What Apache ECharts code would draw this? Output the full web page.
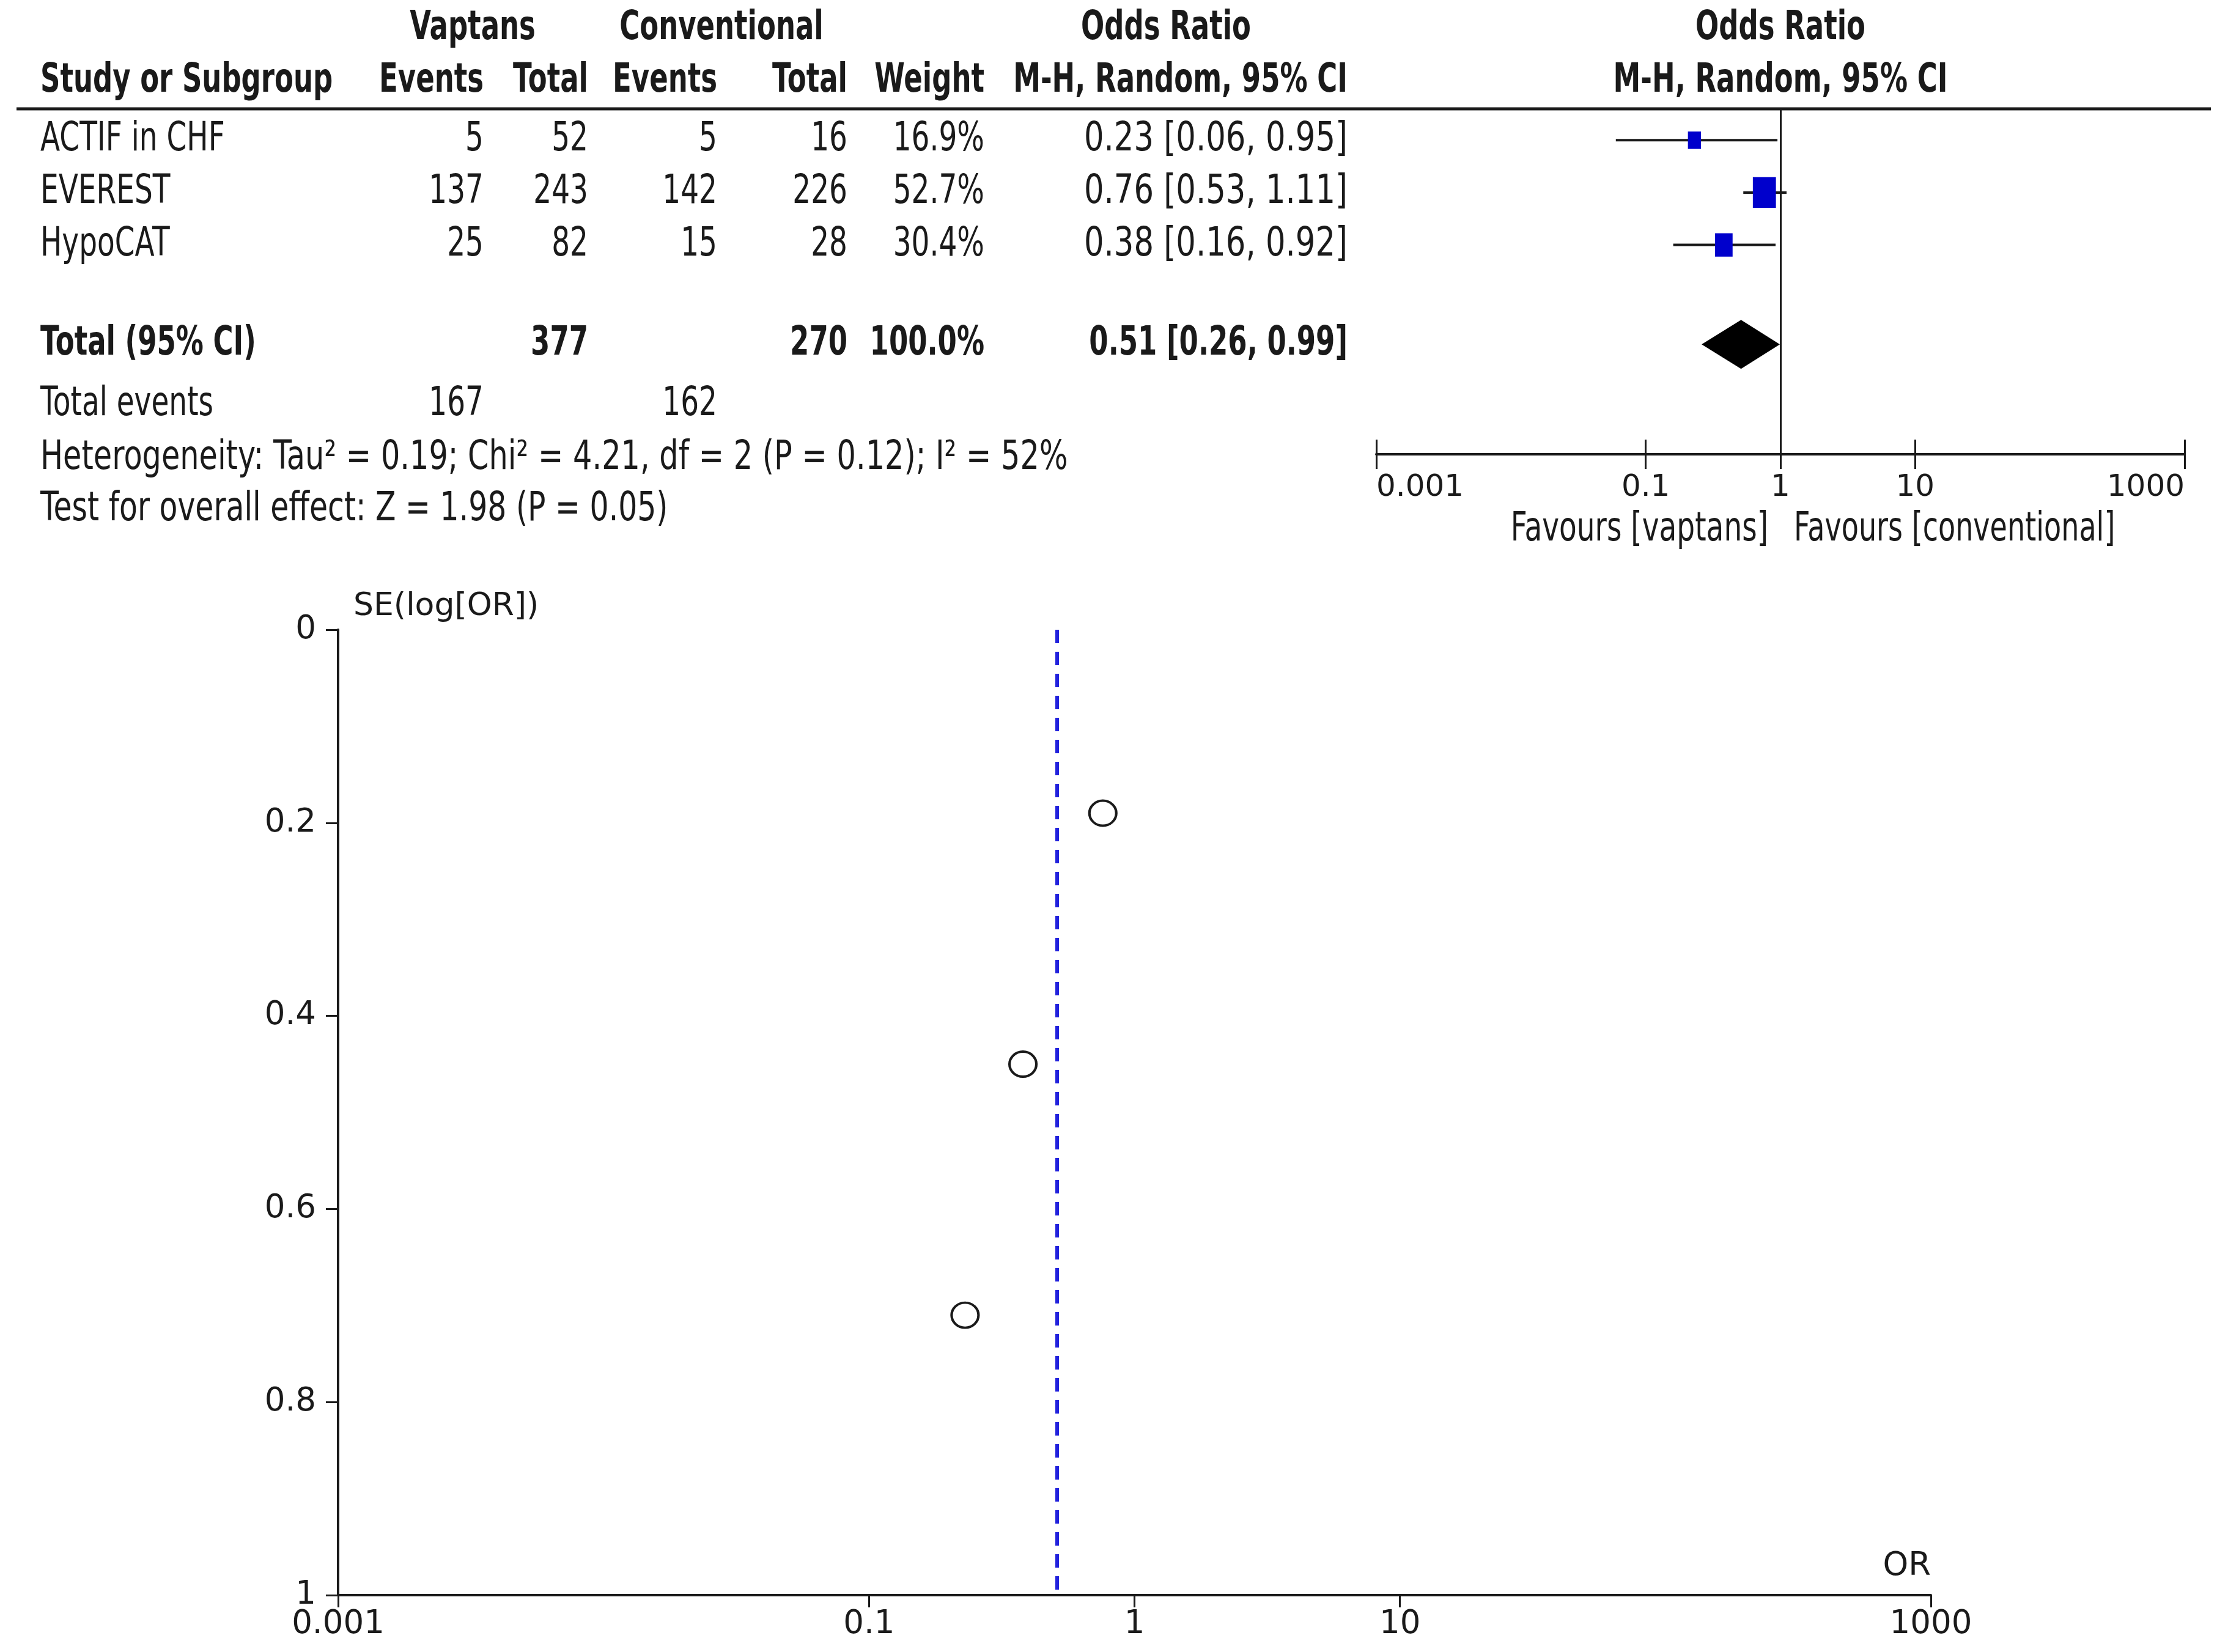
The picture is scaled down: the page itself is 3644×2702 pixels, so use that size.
<!DOCTYPE html>
<html>
<head>
<meta charset="utf-8">
<title>Vaptans vs conventional therapy: forest plot and funnel plot</title>
<script src="https://cdn.jsdelivr.net/npm/echarts@6.0.0/dist/echarts.min.js"></script>
<style>
  html, body { margin: 0; padding: 0; background: #fff; }
  #chart { width: 3644px; height: 2702px; }
</style>
</head>
<body>
<div id="chart"></div>
<script>
// 各研究数据
const studies = ['ACTIF in CHF', 'EVEREST', 'HypoCAT']
const vapEvents = [5, 137, 25]
const vapTotal = [52, 243, 82]
const conEvents = [5, 142, 15]
const conTotal = [16, 226, 28]
const weights = [16.9, 52.7, 30.4]
const oddsRatio = [0.23, 0.76, 0.38]
const ciLow = [0.06, 0.53, 0.16]
const ciHigh = [0.95, 1.11, 0.92]
// 漏斗图纵轴 SE(log[OR])
const seLogOr = [0.71, 0.19, 0.45]

// 合并结果
const pooledOR = 0.51
const pooledLow = 0.26
const pooledHigh = 0.99
const tau2 = 0.19
const chi2 = 4.21
const df = 2
const pHet = 0.12
const i2 = 52
const zValue = 1.98
const pOverall = 0.05

// 坐标轴刻度
const orTicks = [0.001, 0.1, 1, 10, 1000]

const INK = '#1a1a1a'
const TABLE_FONT = '"DejaVu Sans", Verdana, sans-serif'
const CAP = 66 // 表格文字目标高度（含纵向拉伸）

const sum = (arr) => arr.reduce((a, b) => a + b, 0)
const fmtOR = (o, l, h) => `${o.toFixed(2)} [${l.toFixed(2)}, ${h.toFixed(2)}]`
const fmtTick = (v) => String(+Number(v).toPrecision(3))
const totalRow = studies.length + 0.9

const chart = echarts.init(document.getElementById('chart'))

const option = {
  backgroundColor: '#fff',
  animation: false,
  grid: [
    // 森林图
    { left: 2251, right: 71, top: 178, height: 565, outerBoundsMode: 'none' },
    // 漏斗图
    { left: 553, right: 486, top: 1030, bottom: 93, outerBoundsMode: 'none' },
  ],
  xAxis: [
    {
      gridIndex: 0,
      type: 'log',
      logBase: 10,
      min: 0.001,
      max: 1000,
      position: 'bottom',
      axisLine: { onZero: false, lineStyle: { color: INK, width: 4 } },
      axisTick: { length: 24, customValues: orTicks, lineStyle: { color: INK, width: 3 } },
      axisLabel: {
        customValues: orTicks,
        formatter: fmtTick,
        margin: 30,
        color: INK,
        fontFamily: TABLE_FONT,
        fontSize: 50,
        alignMinLabel: 'left',
        alignMaxLabel: 'right',
      },
      splitLine: { show: false },
    },
    {
      // 刻度向上的一半
      gridIndex: 0,
      type: 'log',
      logBase: 10,
      min: 0.001,
      max: 1000,
      position: 'bottom',
      axisLine: { show: false, onZero: false },
      axisTick: { inside: true, length: 24, customValues: orTicks, lineStyle: { color: INK, width: 3 } },
      axisLabel: { show: false },
      splitLine: { show: false },
    },
    {
      gridIndex: 1,
      type: 'log',
      logBase: 10,
      min: 0.001,
      max: 1000,
      name: 'OR',
      nameLocation: 'end',
      nameGap: 0,
      nameTextStyle: {
        color: INK,
        fontFamily: TABLE_FONT,
        fontSize: 53,
        align: 'right',
        verticalAlign: 'bottom',
        padding: [0, 0, 20, 0],
      },
      axisLine: { onZero: false, lineStyle: { color: INK, width: 4 } },
      axisTick: { length: 20, customValues: orTicks, lineStyle: { color: INK, width: 3 } },
      axisLabel: {
        customValues: orTicks,
        formatter: fmtTick,
        margin: 22,
        color: INK,
        fontFamily: TABLE_FONT,
        fontSize: 53,
      },
      splitLine: { show: false },
    },
  ],
  yAxis: [
    {
      gridIndex: 0,
      type: 'value',
      inverse: true,
      min: -0.6,
      max: 6.0,
      show: false,
    },
    {
      gridIndex: 1,
      type: 'value',
      inverse: true,
      min: 0,
      max: 1,
      interval: 0.2,
      name: 'SE(log[OR])',
      nameLocation: 'start',
      nameGap: 38,
      nameTextStyle: {
        color: INK,
        fontFamily: TABLE_FONT,
        fontSize: 52,
        align: 'left',
        verticalAlign: 'middle',
        padding: [0, 0, 0, 25],
      },
      axisLine: { onZero: false, lineStyle: { color: INK, width: 4 } },
      axisTick: { length: 20, lineStyle: { color: INK, width: 3 } },
      axisLabel: { margin: 36, color: INK, fontFamily: TABLE_FONT, fontSize: 53 },
      splitLine: { show: false },
    },
  ],
  series: [
    {
      // 置信区间线
      type: 'custom',
      xAxisIndex: 0,
      yAxisIndex: 0,
      silent: true,
      data: studies.map((s, i) => [ciLow[i], ciHigh[i], i]),
      encode: { x: [0, 1], y: 2 },
      renderItem: (params, api) => {
        const a = api.coord([api.value(0), api.value(2)])
        const b = api.coord([api.value(1), api.value(2)])
        return {
          type: 'line',
          shape: { x1: a[0], y1: a[1], x2: b[0], y2: b[1] },
          style: { stroke: INK, lineWidth: 4 },
        }
      },
    },
    {
      // 权重方块
      type: 'scatter',
      xAxisIndex: 0,
      yAxisIndex: 0,
      silent: true,
      symbol: 'rect',
      symbolSize: (val) => {
        const w = 5.2 * Math.sqrt(val[2])
        return [w, w * 1.33]
      },
      itemStyle: { color: '#0000cc', opacity: 1 },
      data: studies.map((s, i) => [oddsRatio[i], i, weights[i]]),
      markLine: {
        silent: true,
        symbol: 'none',
        label: { show: false },
        lineStyle: { color: INK, width: 3, type: 'solid' },
        data: [{ xAxis: 1 }],
      },
      z: 3,
    },
    {
      // 合并效应菱形
      type: 'custom',
      xAxisIndex: 0,
      yAxisIndex: 0,
      silent: true,
      data: [[pooledOR, pooledLow, pooledHigh, totalRow]],
      encode: { x: [0, 1, 2], y: 3 },
      renderItem: (params, api) => {
        const y = api.value(3)
        const mid = api.coord([api.value(0), y])
        const lo = api.coord([api.value(1), y])
        const hi = api.coord([api.value(2), y])
        const half = 40
        return {
          type: 'polygon',
          shape: {
            points: [
              [lo[0], mid[1]],
              [mid[0], mid[1] - half],
              [hi[0], mid[1]],
              [mid[0], mid[1] + half],
            ],
          },
          style: { fill: '#000' },
        }
      },
    },
    {
      // 漏斗图散点
      type: 'scatter',
      xAxisIndex: 2,
      yAxisIndex: 1,
      silent: true,
      symbol: 'circle',
      symbolSize: [44, 41],
      itemStyle: { color: '#fff', borderColor: INK, borderWidth: 4, opacity: 1 },
      data: studies.map((s, i) => [oddsRatio[i], seLogOr[i]]),
      markLine: {
        silent: true,
        symbol: 'none',
        label: { show: false },
        lineStyle: { color: '#2222dd', width: 6, type: [22, 14] },
        data: [{ xAxis: pooledOR }],
      },
    },
  ],
}

chart.setOption(option)

// 表格文字：原图文字偏窄偏高，用 scaleY 拉伸
const cell = (text, x, y, align, bold, sx) => {
  const size = bold ? 45 : 47
  return {
    type: 'text',
    x,
    y,
    scaleX: sx || 1,
    scaleY: CAP / size,
    silent: true,
    style: {
      text,
      font: `${bold ? 'bold ' : ''}${size}px ${TABLE_FONT}`,
      fill: INK,
      textAlign: align,
      textVerticalAlign: 'middle',
    },
  }
}

const rowPx = (row) => chart.convertToPixel({ gridIndex: 0 }, [1, row])[1]
const oneX = chart.convertToPixel({ gridIndex: 0 }, [1, 0])[0]

const colStudy = 66
const colVapEv = 791
const colVapTot = 962
const colConEv = 1173
const colConTot = 1386
const colWeight = 1610
const colOR = 2204
const head1 = 47
const head2 = 133

const texts = [
  cell('Vaptans', 773, head1, 'center', true),
  cell('Conventional', 1180, head1, 'center', true),
  cell('Odds Ratio', 1907, head1, 'center', true),
  cell('Odds Ratio', oneX, head1, 'center', true),
  cell('Study or Subgroup', colStudy, head2, 'left', true),
  cell('Events', colVapEv, head2, 'right', true),
  cell('Total', colVapTot, head2, 'right', true),
  cell('Events', colConEv, head2, 'right', true),
  cell('Total', colConTot, head2, 'right', true),
  cell('Weight', colWeight, head2, 'right', true),
  cell('M-H, Random, 95% CI', colOR, head2, 'right', true),
  cell('M-H, Random, 95% CI', oneX, head2, 'center', true),
]

studies.forEach((s, i) => {
  const y = rowPx(i)
  texts.push(
    cell(s, colStudy, y, 'left'),
    cell(String(vapEvents[i]), colVapEv, y, 'right'),
    cell(String(vapTotal[i]), colVapTot, y, 'right'),
    cell(String(conEvents[i]), colConEv, y, 'right'),
    cell(String(conTotal[i]), colConTot, y, 'right'),
    cell(weights[i].toFixed(1) + '%', colWeight, y, 'right'),
    cell(fmtOR(oddsRatio[i], ciLow[i], ciHigh[i]), colOR, y, 'right', false, 1.09),
  )
})

const yTotal = rowPx(totalRow)
texts.push(
  cell('Total (95% CI)', colStudy, yTotal, 'left', true),
  cell(String(sum(vapTotal)), colVapTot, yTotal, 'right', true),
  cell(String(sum(conTotal)), colConTot, yTotal, 'right', true),
  cell(sum(weights).toFixed(1) + '%', colWeight, yTotal, 'right', true),
  cell(fmtOR(pooledOR, pooledLow, pooledHigh), colOR, yTotal, 'right', true),
  cell('Total events', colStudy, 662, 'left'),
  cell(String(sum(vapEvents)), colVapEv, 662, 'right'),
  cell(String(sum(conEvents)), colConEv, 662, 'right'),
  cell(
    `Heterogeneity: Tau² = ${tau2.toFixed(2)}; Chi² = ${chi2.toFixed(2)}, df = ${df} (P = ${pHet.toFixed(2)}); I² = ${i2}%`,
    colStudy, 750, 'left', false, 1.05,
  ),
  cell(`Test for overall effect: Z = ${zValue.toFixed(2)} (P = ${pOverall.toFixed(2)})`, colStudy, 834, 'left', false, 1.04),
  cell('Favours [vaptans]', oneX - 20, 867, 'right'),
  cell('Favours [conventional]', oneX + 22, 867, 'left', false, 0.98),
)

chart.setOption({
  graphic: [
    {
      type: 'line',
      silent: true,
      shape: { x1: 27, y1: 178, x2: 3616, y2: 178 },
      style: { stroke: INK, lineWidth: 5 },
    },
    ...texts,
  ],
})

window.addEventListener('resize', () => chart.resize())
</script>
</body>
</html>
